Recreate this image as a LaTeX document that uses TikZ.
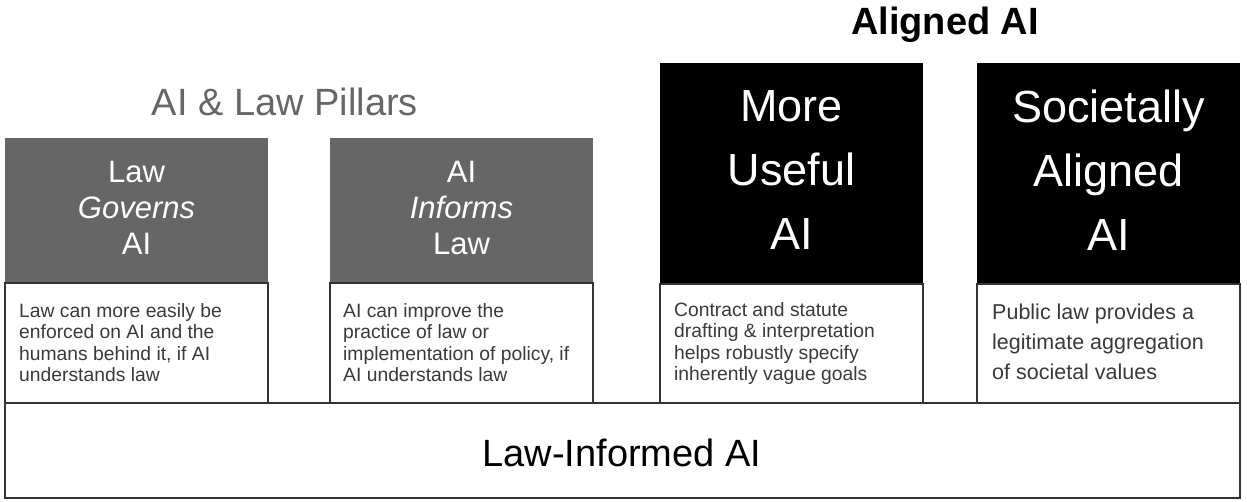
\documentclass[tikz,border=0pt]{standalone}
\usepackage{fontspec}
\setmainfont{Liberation Sans}
\definecolor{pillargray}{HTML}{666666}
\definecolor{desctext}{HTML}{3A3A3A}
\definecolor{edgecol}{HTML}{333333}
\begin{document}
\begin{tikzpicture}[x=1pt,y=-1pt,
  pillar/.style={anchor=north west, inner sep=0pt, outer sep=0pt, fill=pillargray, minimum width=263pt, minimum height=145pt},
  goal/.style={anchor=north west, inner sep=0pt, outer sep=0pt, fill=black, minimum width=263pt, minimum height=221pt},
  pillartxt/.style={inner sep=0pt, text=white, align=center, font=\fontsize{31}{36}\selectfont},
  goaltxt/.style={inner sep=0pt, text=white, align=center, font=\fontsize{45}{64}\selectfont},
  descbox/.style={anchor=north west, inner sep=0pt, outer sep=0pt, draw=edgecol, line width=1.2pt, fill=white, minimum width=263pt, minimum height=120pt},
  desctxt/.style={anchor=north west, inner sep=0pt, align=left, text=desctext, font=\fontsize{19.3}{21.6}\selectfont},
  desctxtbig/.style={anchor=north west, inner sep=0pt, align=left, text=desctext, font=\fontsize{21.5}{30}\selectfont},
  header/.style={anchor=base, inner sep=0pt, font=\fontsize{38}{44}\selectfont}
]
\useasboundingbox (0,0) rectangle (1247,502);
% base
\node[descbox, minimum width=1235pt, minimum height=95pt] (base) at (5,403) {};
\node[header] (basetxt) at (622,466) {Law-Informed AI};
% headers
\node[header, text=pillargray] (hpillars) at (285,116) {AI \& Law Pillars};
\node[header, font=\bfseries\fontsize{38}{44}\selectfont] (haligned) at (945,35) {Aligned AI};
% pillars
\node[pillar] (p1) at (5,138) {};
\node[pillar] (p2) at (330,138) {};
\node[goal] (g1) at (660,63) {};
\node[goal] (g2) at (977,63) {};
\node[pillartxt] (p1t) at ([yshift=3pt]p1.center) {Law\\\textit{Governs}\\AI};
\node[pillartxt] (p2t) at ([yshift=3pt]p2.center) {AI\\\textit{Informs}\\Law};
\node[goaltxt] (g1t) at ([yshift=3pt]g1.center) {More\\Useful\\AI};
\node[goaltxt] (g2t) at ([yshift=3pt]g2.center) {Societally\\Aligned\\AI};
% descriptions
\node[descbox] (d1) at (5,283) {};
\node[descbox] (d2) at (330,283) {};
\node[descbox, minimum height=119pt] (d3) at (660,284) {};
\node[descbox, minimum height=119pt] (d4) at (977,284) {};
\node[desctxt] (t1) at (19,303) {Law can more easily be\\enforced on AI and the\\humans behind it, if AI\\understands law};
\node[desctxt] (t2) at (343,303) {AI can improve the\\practice of law or\\implementation of policy, if\\AI understands law};
\node[desctxt] (t3) at (674,302) {Contract and statute\\drafting \& interpretation\\helps robustly specify\\inherently vague goals};
\node[desctxtbig] (t4) at (992,304) {Public law provides a\\legitimate aggregation\\of societal values};
\end{tikzpicture}
\end{document}
